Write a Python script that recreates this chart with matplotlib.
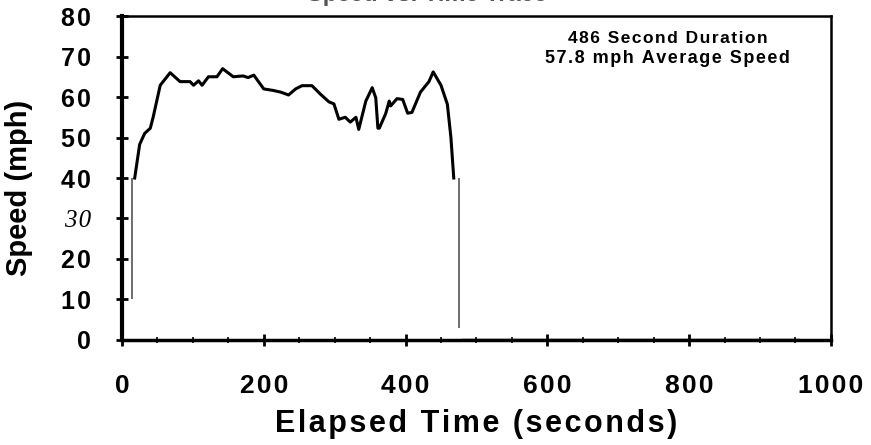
import matplotlib.pyplot as plt
import numpy as np

# speed trace (seconds, mph)
time_s = [18, 25, 32, 40, 44, 54, 68, 82, 96, 101, 108, 113, 122, 134, 142,
          157, 171, 178, 186, 200, 214, 224, 235, 245, 254, 268, 280, 292,
          299, 306, 315, 322, 330, 334, 344, 353, 358, 361, 363, 372, 377,
          379, 388, 396, 403, 409, 421, 433, 439, 450, 459, 464, 468]
speed_mph = [40, 48.3, 51, 52.3, 55, 62.9, 66, 63.8, 63.8, 62.9, 64, 62.9,
             65, 65, 67, 65, 65.2, 64.8, 65.4, 62, 61.6, 61.2, 60.5, 62,
             62.8, 62.8, 60.7, 58.8, 58.3, 54.5, 55, 53.8, 55, 52, 59, 62.3,
             59.8, 52.3, 52.3, 55.9, 59, 57.8, 59.6, 59.4, 56, 56.2, 61.2,
             63.8, 66.2, 62.9, 58.2, 50, 40]

# thin vertical strokes at start and end of the trip
ramp_time = [14, 475]
ramp_low = [10, 3]
ramp_high = [40, 40]

# idle tail after the trip
idle_time = [480, 955]
idle_speed = [0.3, 0.3]

x_ticks = [0, 200, 400, 600, 800, 1000]
y_ticks = [0, 10, 20, 30, 40, 50, 60, 70, 80]

title = "Speed vs. Time Trace"
note_lines = ["486 Second Duration", "57.8 mph Average Speed"]

FONT = ["Liberation Sans", "DejaVu Sans"]


def spaced(s, sep="\u200a"):
    # the scanned original has wide letter spacing
    return sep.join(s)


fig = plt.figure(figsize=(8.71, 4.45), dpi=100)
ax = fig.add_axes([0.140, 0.236, 0.814, 0.728])

ax.plot(time_s, speed_mph, color="black", lw=2.2)
for t, lo, hi in zip(ramp_time, ramp_low, ramp_high):
    ax.vlines(t, lo, hi, color="#555555", lw=1.2)
ax.plot(idle_time, idle_speed, color="#333333", lw=1.0)

ax.set_xlim(0, 1000)
ax.set_ylim(0, 80)

ax.set_xticks(x_ticks)
ax.set_xticklabels([spaced(str(v)) for v in x_ticks],
                   fontsize=19, fontweight="bold", family=FONT)
ax.set_xticks(np.arange(0, 1001, 50), minor=True)
ax.set_yticks(y_ticks)
ax.set_yticklabels([spaced(str(v)) for v in y_ticks],
                   fontsize=18, fontweight="bold", family=FONT)
for lab in ax.get_yticklabels():
    if lab.get_text().replace("\u200a", "") == "30":
        lab.set_family(["Liberation Serif", "DejaVu Serif"])
        lab.set_fontstyle("italic")
        lab.set_fontweight("normal")

ax.tick_params(axis="both", which="major", direction="inout", length=9,
               width=2)
ax.tick_params(axis="x", which="major", pad=20)
ax.tick_params(axis="y", which="major", pad=18)
ax.tick_params(axis="x", which="minor", direction="inout", length=5, width=1.2)

ax.spines["left"].set_linewidth(3)
ax.spines["bottom"].set_linewidth(2.5)
ax.spines["top"].set_linewidth(1.8)
ax.spines["right"].set_linewidth(1.8)

ax.set_xlabel(spaced("Elapsed Time (seconds)"), fontsize=22,
              fontweight="bold", family=FONT, labelpad=8)
ax.set_ylabel("Speed (mph)", fontsize=21, fontweight="bold", family=FONT)
ax.yaxis.set_label_coords(-0.125, 0.47)

ax.text(0.77, 0.930, spaced(note_lines[0]), transform=ax.transAxes,
        ha="center", va="center", fontsize=12.5, fontweight="bold", family=FONT)
ax.text(0.77, 0.868, spaced(note_lines[1]), transform=ax.transAxes,
        ha="center", va="center", fontsize=13, fontweight="bold", family=FONT)

fig.text(0.49, 1 - 1 / 445, title, ha="center", va="baseline",
         fontsize=17, fontweight="bold", family=FONT, color="#555555")

fig.savefig("out.png", dpi=100)
